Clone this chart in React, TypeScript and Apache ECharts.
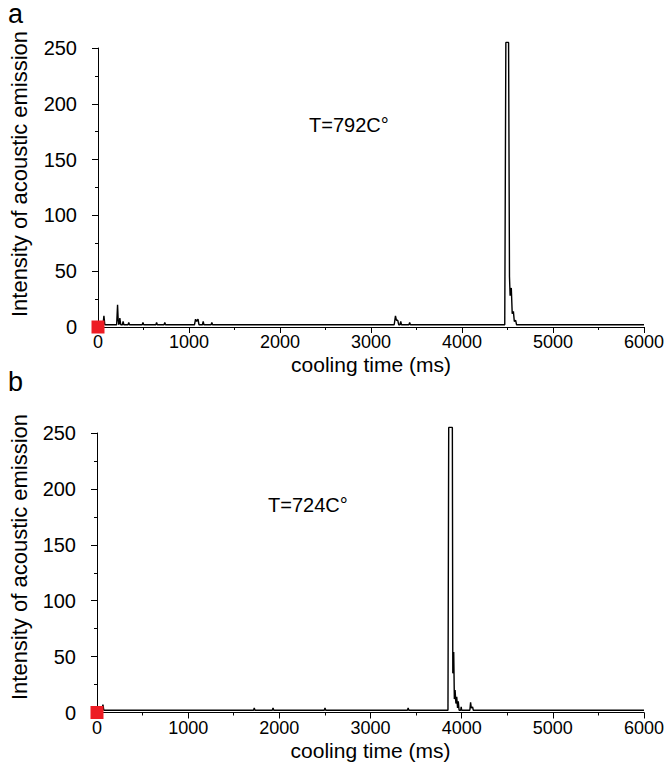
import React, { useEffect, useRef } from "react";
import * as echarts from "echarts";

// Panel a (T = 792 °C): cooling time (ms) and acoustic emission intensity
const timeA = [
  0, 55, 65, 75,
  205, 215, 222, 230, 240, 250, 268, 276, 284, 330, 338, 346,
  486, 494, 502, 636, 644, 652, 726, 734, 742,
  1060, 1072, 1084, 1099, 1110, 1148, 1156, 1164, 1243, 1251, 1259,
  3255, 3269, 3280, 3294, 3305, 3319, 3327, 3335, 3417, 3425, 3433,
  4470, 4482, 4512, 4522, 4529, 4542, 4552, 4565, 4575, 4590, 4600,
  6000,
];
const intensityA = [
  2, 2, 10, 2,
  2, 20, 6, 2, 8, 2, 2, 5, 2, 2, 4, 2,
  2, 4, 2, 2, 4, 2, 2, 4, 2,
  2, 7, 5, 7, 2, 2, 5, 2, 2, 4, 2,
  2, 10, 6, 6, 2, 2, 5, 2, 2, 4, 2,
  2, 255, 255, 45, 28, 35, 12, 14, 5, 6, 2,
  2,
];

// Panel b (T = 724 °C)
const timeB = [
  0, 55, 65, 75,
  1717, 1725, 1733, 1923, 1931, 1939, 2493, 2501, 2509, 3405, 3413, 3421,
  3850, 3858, 3898, 3903, 3913, 3920, 3928, 3937, 3946, 3955, 3963, 3972, 3990, 3995, 4000,
  4090, 4098, 4106, 4120, 4128,
  6000,
];
const intensityB = [
  2, 2, 7, 2,
  2, 4, 2, 2, 4, 2, 2, 4, 2, 2, 4, 2,
  2, 255, 255, 35, 54, 12, 20, 8, 14, 4, 10, 2, 2, 5, 2,
  2, 9, 4, 5, 2,
  2,
];

const markerPoint = [0, 0];
const labelA = "T=792C°";
const labelB = "T=724C°";
const panelLetters = ["a", "b"];
const xName = "cooling time (ms)";
const yName = "Intensity of acoustic emission";

const FONT = "'Liberation Sans', Arial, Helvetica, sans-serif";

function zip(xs: number[], ys: number[]) {
  return xs.map((x, i) => [x, ys[i]]);
}

export default function App() {
  const ref = useRef<HTMLDivElement>(null);

  useEffect(() => {
    if (!ref.current) return;
    const chart = echarts.init(ref.current, undefined, { renderer: "svg" });

    const xAxis = (gridIndex: number) => ({
      type: "value",
      gridIndex,
      min: 0,
      max: 6000,
      interval: 1000,
      name: xName,
      nameLocation: "middle",
      nameGap: 27,
      nameMoveOverlap: false,
      nameTextStyle: { fontSize: 21, color: "#000", fontFamily: FONT },
      axisLine: { show: true, onZero: false, lineStyle: { color: "#000", width: 1 } },
      axisTick: { show: true, length: 6, lineStyle: { color: "#000", width: 1 } },
      minorTick: { show: true, splitNumber: 2, length: 3, lineStyle: { color: "#000", width: 1 } },
      axisLabel: {
        fontSize: 18,
        color: "#000",
        margin: 6,
        fontFamily: FONT,
        formatter: (v: number) => String(v),
      },
      splitLine: { show: false },
      minorSplitLine: { show: false },
    });

    const yAxis = (gridIndex: number) => ({
      type: "value",
      gridIndex,
      min: 0,
      max: 250,
      interval: 50,
      axisLine: { show: true, onZero: false, lineStyle: { color: "#000", width: 1 } },
      axisTick: { show: true, length: 6, lineStyle: { color: "#000", width: 1 } },
      minorTick: { show: true, splitNumber: 2, length: 3, lineStyle: { color: "#000", width: 1 } },
      axisLabel: { fontSize: 20, color: "#000", margin: 21, fontFamily: FONT },
      splitLine: { show: false },
      minorSplitLine: { show: false },
    });

    const lineSeries = (idx: number, xs: number[], ys: number[]) => ({
      type: "line",
      xAxisIndex: idx,
      yAxisIndex: idx,
      data: zip(xs, ys),
      symbol: "none",
      showSymbol: false,
      clip: false,
      lineStyle: { color: "#000", width: 1.4 },
      z: 2,
    });

    const markerSeries = (idx: number) => ({
      type: "scatter",
      xAxisIndex: idx,
      yAxisIndex: idx,
      data: [markerPoint],
      symbol: "rect",
      symbolSize: 13,
      clip: false,
      itemStyle: { color: "#ED1C24", opacity: 1 },
      z: 5,
    });

    chart.setOption({
      animation: false,
      backgroundColor: "#fff",
      grid: [
        { left: 98, top: 48, width: 550, height: 279 },
        { left: 97, top: 433, width: 553, height: 279.5 },
      ],
      xAxis: [xAxis(0), xAxis(1)],
      yAxis: [yAxis(0), yAxis(1)],
      series: [
        lineSeries(0, timeA, intensityA),
        lineSeries(1, timeB, intensityB),
        markerSeries(0),
        markerSeries(1),
      ],
      graphic: [
        {
          type: "text",
          left: 8,
          top: 0,
          style: { text: panelLetters[0], fill: "#000", font: `27px ${FONT}` },
        },
        {
          type: "text",
          left: 8,
          top: 368,
          style: { text: panelLetters[1], fill: "#000", font: `27px ${FONT}` },
        },
        {
          type: "text",
          x: 19,
          y: 174,
          rotation: Math.PI / 2,
          style: {
            text: yName,
            fill: "#000",
            font: `22px ${FONT}`,
            align: "center",
            verticalAlign: "middle",
          },
        },
        {
          type: "text",
          x: 19,
          y: 557,
          rotation: Math.PI / 2,
          style: {
            text: yName,
            fill: "#000",
            font: `22px ${FONT}`,
            align: "center",
            verticalAlign: "middle",
          },
        },
        {
          type: "text",
          x: 309,
          y: 125,
          style: { text: labelA, fill: "#000", font: `20px ${FONT}`, align: "left", verticalAlign: "middle" },
        },
        {
          type: "text",
          x: 268,
          y: 505,
          style: { text: labelB, fill: "#000", font: `20px ${FONT}`, align: "left", verticalAlign: "middle" },
        },
      ],
    });

    return () => chart.dispose();
  }, []);

  return (
    <div
      ref={ref}
      style={{ position: "absolute", left: 0, top: 0, width: 667, height: 778, background: "#fff" }}
    />
  );
}
